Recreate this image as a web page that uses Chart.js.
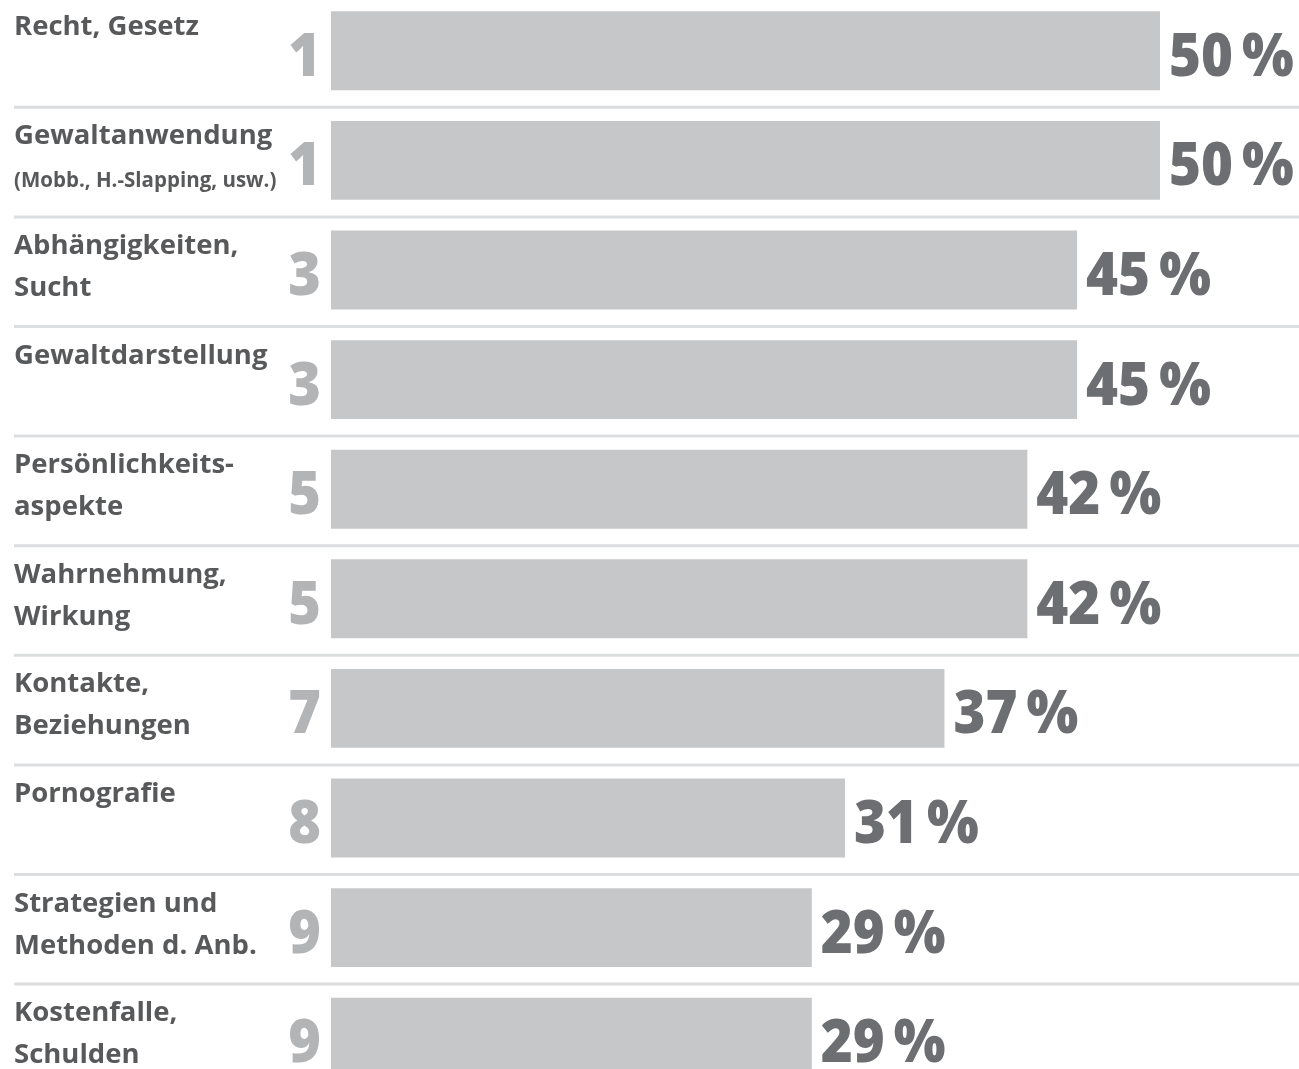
<!DOCTYPE html>
<html lang="de">
<head>
<meta charset="utf-8">
<title>Themen</title>
<script src="https://cdn.jsdelivr.net/npm/chart.js@4.4.1/dist/chart.umd.min.js"></script>
<style>
    html, body { margin: 0; padding: 0; background: #fff; overflow: hidden; }
    .chart-wrap { position: absolute; left: 0; top: -4px; width: 1299px; height: 1100px; }
</style>
</head>
<body>
<div class="chart-wrap"><canvas id="rankChart"></canvas></div>
<script>
// Daten
const labelLines = [
    ['Recht, Gesetz'],
    ['Gewaltanwendung'],
    ['Abhängigkeiten,', 'Sucht'],
    ['Gewaltdarstellung'],
    ['Persönlichkeits-', 'aspekte'],
    ['Wahrnehmung,', 'Wirkung'],
    ['Kontakte,', 'Beziehungen'],
    ['Pornografie'],
    ['Strategien und', 'Methoden d. Anb.'],
    ['Kostenfalle,', 'Schulden']
];
const labelNotes = ['', '(Mobb., H.-Slapping, usw.)', '', '', '', '', '', '', '', ''];
const ranks = [1, 1, 3, 3, 5, 5, 7, 8, 9, 9];
const shares = [50, 50, 45, 45, 42, 42, 37, 31, 29, 29];

const FONT = '"Open Sans", "Noto Sans", sans-serif';

// schmal gezeichneter Text (große Ziffern sind im Original etwas kondensiert)
function narrowText(ctx, text, x, y, squeeze) {
    ctx.save();
    ctx.translate(x, y);
    ctx.scale(squeeze, 1);
    ctx.fillText(text, 0, 0);
    ctx.restore();
}

// Beschriftungen, Ränge, Werte und Trennlinien
const rowDecor = {
    id: 'rowDecor',
    afterDatasetsDraw(chart) {
        const ctx = chart.ctx;
        const x = chart.scales.x;
        const y = chart.scales.y;
        ctx.save();
        labelLines.forEach((lines, i) => {
            const cy = y.getPixelForValue(i);
            const xEnd = x.getPixelForValue(shares[i]);

            // Trennlinie
            ctx.strokeStyle = '#dcdddf';
            ctx.lineWidth = 3;
            ctx.beginPath();
            ctx.moveTo(14, cy + 56.5);
            ctx.lineTo(chart.width, cy + 56.5);
            ctx.stroke();

            // Kategorie
            ctx.fillStyle = '#58595b';
            ctx.textAlign = 'left';
            ctx.textBaseline = 'alphabetic';
            ctx.font = 'bold 27.5px ' + FONT;
            lines.forEach((t, k) => ctx.fillText(t, 14, cy - 16 + k * 42));
            if (labelNotes[i]) {
                ctx.font = 'bold 20.5px ' + FONT;
                ctx.fillText(labelNotes[i], 14, cy + 27);
            }

            // Rang
            ctx.fillStyle = '#b3b4b6';
            ctx.textAlign = 'right';
            ctx.font = '800 60px ' + FONT;
            narrowText(ctx, String(ranks[i]), 321, cy + 25, 0.93);

            // Wert
            ctx.fillStyle = '#6d6e71';
            ctx.textAlign = 'left';
            ctx.font = '800 60px ' + FONT;
            narrowText(ctx, shares[i] + '\u2009%', xEnd + 9, cy + 25, 0.91);
        });
        ctx.restore();
    }
};

new Chart(document.getElementById('rankChart').getContext('2d'), {
    type: 'bar',
    data: {
        labels: labelLines.map(l => l.join(' ')),
        datasets: [{
            data: shares,
            backgroundColor: '#c6c7c9',
            borderWidth: 0,
            categoryPercentage: 1,
            barPercentage: 0.72
        }]
    },
    options: {
        indexAxis: 'y',
        responsive: true,
        maintainAspectRatio: false,
        animation: false,
        layout: { padding: { left: 331, right: 139, top: 0, bottom: 4 } },
        plugins: { legend: { display: false }, tooltip: { enabled: false } },
        scales: {
            x: { display: false, min: 0, max: 50 },
            y: { display: false, offset: true }
        }
    },
    plugins: [rowDecor]
});
</script>
</body>
</html>
